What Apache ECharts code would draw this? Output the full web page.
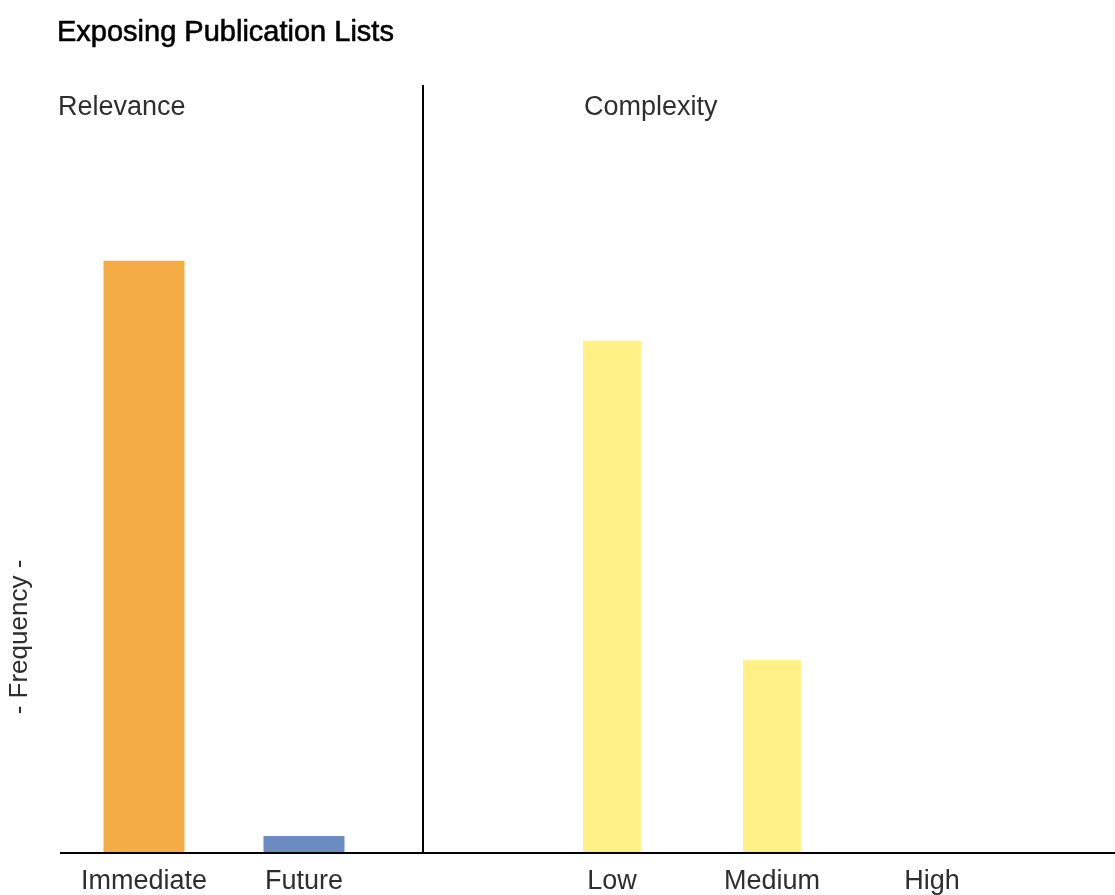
<!DOCTYPE html>
<html>
<head>
<meta charset="utf-8">
<script src="https://cdn.jsdelivr.net/npm/echarts@6/dist/echarts.min.js"></script>
<style>html,body{margin:0;padding:0;background:#fff}#c{width:1115px;height:895px}</style>
</head>
<body>
<div id="c"></div>
<script>
const titleText = 'Exposing Publication Lists';
const yAxisLabel = '- Frequency -';
const panelNames = ['Relevance', 'Complexity'];
const relevanceCategories = ['Immediate', 'Future'];
const relevanceValues = [37, 1];
const relevanceColors = ['#F4AC45', '#6C8BBE'];
const complexityCategories = ['Low', 'Medium', 'High'];
const complexityValues = [32, 12, 0];
const complexityColor = '#FFF186';
const yMax = 48;

const FONT = '"Liberation Sans", Arial, sans-serif';
const chart = echarts.init(document.getElementById('c'), null, {renderer: 'canvas'});

const labelStyle = {fontSize: 27, color: '#2e2e2e', fontFamily: FONT, margin: 16, interval: 0, hideOverlap: false};

chart.setOption({
  animation: false,
  backgroundColor: '#fff',
  title: {
    text: titleText, left: 52, top: 13,
    textStyle: {fontSize: 29, fontWeight: 'normal', color: '#000', fontFamily: FONT,
                textBorderColor: '#000', textBorderWidth: 0.6}
  },
  grid: [
    {left: 64, width: 320, top: 85, bottom: 42},
    {left: 532, width: 480, top: 85, bottom: 42}
  ],
  xAxis: [
    {type: 'category', gridIndex: 0, data: relevanceCategories,
     axisLine: {show: false}, axisTick: {show: false}, axisLabel: labelStyle},
    {type: 'category', gridIndex: 1, data: complexityCategories,
     axisLine: {show: false}, axisTick: {show: false}, axisLabel: labelStyle}
  ],
  yAxis: [
    {type: 'value', gridIndex: 0, min: 0, max: yMax, show: false, splitLine: {show: false}},
    {type: 'value', gridIndex: 1, min: 0, max: yMax, show: false, splitLine: {show: false}}
  ],
  series: [
    {type: 'bar', xAxisIndex: 0, yAxisIndex: 0, barWidth: 81,
     data: relevanceValues.map((v, i) => ({value: v, itemStyle: {color: relevanceColors[i]}}))},
    {type: 'bar', xAxisIndex: 1, yAxisIndex: 1, barWidth: 58,
     itemStyle: {color: complexityColor},
     data: complexityValues}
  ],
  graphic: [
    {type: 'line', shape: {x1: 60, y1: 853, x2: 1115, y2: 853}, style: {stroke: '#000', lineWidth: 2}, z: 10},
    {type: 'line', shape: {x1: 423, y1: 85, x2: 423, y2: 853}, style: {stroke: '#000', lineWidth: 2}, z: 10},
    {type: 'text', x: 58, y: 108, style: {text: panelNames[0], font: '27px ' + FONT, fill: '#2e2e2e', align: 'left', verticalAlign: 'middle'}},
    {type: 'text', x: 584, y: 108, style: {text: panelNames[1], font: '27px ' + FONT, fill: '#2e2e2e', align: 'left', verticalAlign: 'middle'}},
    {type: 'text', x: 20, y: 637, rotation: Math.PI / 2,
     style: {text: yAxisLabel, font: '26px ' + FONT, fill: '#2e2e2e', align: 'center', verticalAlign: 'middle'}}
  ]
});
</script>
</body>
</html>
